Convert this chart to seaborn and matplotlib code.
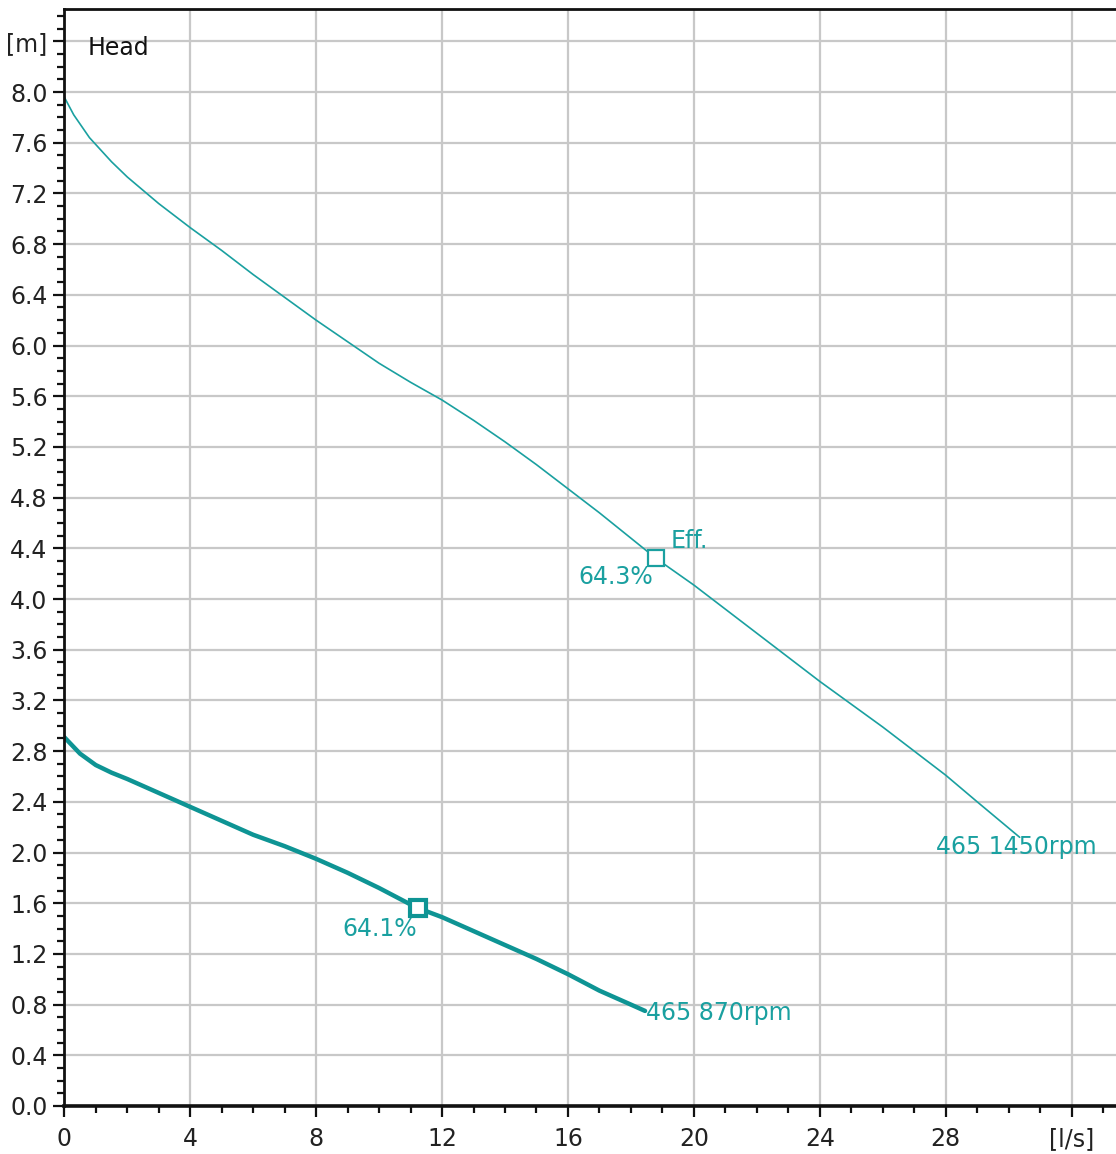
import matplotlib
matplotlib.use("Agg")
import matplotlib.pyplot as plt
import numpy as np
import pandas as pd
import seaborn as sns

# Pump curve 465 @ 1450 rpm (flow l/s, head m)
flow_1450 = [0.0, 0.3, 0.8, 1.5, 2.0, 3.0, 4.0, 5.0, 6.0, 7.0, 8.0, 9.0, 10.0, 11.0,
             12.0, 13.0, 14.0, 15.0, 16.0, 17.0, 18.0, 18.8, 20.0, 21.0, 22.0, 23.0,
             24.0, 25.0, 26.0, 27.0, 28.0, 29.0, 30.35]
head_1450 = [7.96, 7.82, 7.64, 7.45, 7.33, 7.12, 6.93, 6.75, 6.56, 6.38, 6.20, 6.03,
             5.86, 5.71, 5.57, 5.41, 5.24, 5.06, 4.87, 4.68, 4.48, 4.32, 4.11, 3.92,
             3.73, 3.54, 3.35, 3.17, 2.99, 2.80, 2.61, 2.40, 2.12]

# Pump curve 465 @ 870 rpm
flow_870 = [0.0, 0.5, 1.0, 1.5, 2.0, 3.0, 4.0, 5.0, 6.0, 7.0, 8.0, 9.0, 10.0, 11.0,
            11.25, 12.0, 13.0, 14.0, 15.0, 16.0, 17.0, 18.0, 18.45]
head_870 = [2.91, 2.78, 2.69, 2.63, 2.58, 2.47, 2.36, 2.25, 2.14, 2.05, 1.95, 1.84,
            1.72, 1.59, 1.56, 1.49, 1.38, 1.27, 1.16, 1.04, 0.91, 0.80, 0.75]

# Best efficiency points
bep_flow = [18.8, 11.25]
bep_head = [4.32, 1.56]
bep_label = ["64.3%", "64.1%"]

curve_names = ["465 1450rpm", "465 870rpm"]

y_ticks = [round(v * 0.4, 1) for v in range(22)]
y_labels = [f"{v:.1f}" for v in y_ticks[:-1]] + ["[m]"]
x_ticks = [0, 4, 8, 12, 16, 20, 24, 28, 32]
x_labels = [str(v) for v in x_ticks[:-1]] + ["[l/s]"]

teal = "#1aa0a0"
teal_dark = "#0e9494"

sns.set_style("white")
plt.rcParams["font.family"] = ["DejaVu Sans"]

fig = plt.figure(figsize=(11.16, 11.54), dpi=100)
ax = fig.add_axes([0.0576, 0.0416, 0.9424, 0.9506])

df_hi = pd.DataFrame({"flow": flow_1450, "head": head_1450})
df_lo = pd.DataFrame({"flow": flow_870, "head": head_870})
sns.lineplot(data=df_hi, x="flow", y="head", ax=ax, color=teal, linewidth=1.2)
sns.lineplot(data=df_lo, x="flow", y="head", ax=ax, color=teal_dark, linewidth=3.2)

ax.plot(bep_flow[0], bep_head[0], marker="s", markersize=11, markerfacecolor="white",
        markeredgecolor=teal, markeredgewidth=1.6, zorder=5)
ax.plot(bep_flow[1], bep_head[1], marker="s", markersize=12, markerfacecolor="white",
        markeredgecolor=teal_dark, markeredgewidth=3, zorder=5)

fs = 17
ax.text(bep_flow[0] - 0.08, bep_head[0] - 0.15, bep_label[0], color=teal, fontsize=fs,
        ha="right", va="center")
ax.text(bep_flow[0] + 0.45, bep_head[0] + 0.14, "Eff.", color=teal, fontsize=fs,
        ha="left", va="center")
ax.text(bep_flow[1] - 0.05, bep_head[1] - 0.16, bep_label[1], color=teal, fontsize=fs,
        ha="right", va="center")
ax.text(flow_1450[-1] - 2.65, head_1450[-1] - 0.08, curve_names[0], color=teal,
        fontsize=fs, ha="left", va="center")
ax.text(flow_870[-1] + 0.02, head_870[-1] - 0.02, curve_names[1], color=teal,
        fontsize=fs, ha="left", va="center")
ax.text(0.75, 8.35, "Head", color="#111111", fontsize=fs, ha="left", va="center")

ax.set_xlim(0, 33.41)
ax.set_ylim(0, 8.655)
ax.set_xticks(x_ticks)
ax.set_xticklabels(x_labels)
ax.set_yticks(y_ticks)
ax.set_yticklabels(y_labels)
ax.set_xticks(np.arange(0, 34, 1), minor=True)
ax.set_yticks(np.arange(0, 8.66, 0.1), minor=True)
ax.set_xlabel("")
ax.set_ylabel("")

ax.grid(True, which="major", color="#c8c8c8", linewidth=1.6)
ax.set_axisbelow(True)
ax.tick_params(axis="both", which="major", direction="out", length=8, width=1.6,
               color="#111111", labelsize=fs, labelcolor="#222222", pad=4,
               bottom=True, left=True)
ax.tick_params(axis="x", which="major", pad=7)
ax.tick_params(axis="both", which="minor", direction="out", length=5, width=1.6,
               color="#111111", bottom=True, left=True)

for side in ["left", "bottom", "top"]:
    ax.spines[side].set_visible(True)
    ax.spines[side].set_color("#111111")
ax.spines["left"].set_linewidth(2)
ax.spines["bottom"].set_linewidth(2.6)
ax.spines["top"].set_linewidth(2)
ax.spines["right"].set_visible(False)

fig.savefig("out.png", dpi=100, facecolor="white")
